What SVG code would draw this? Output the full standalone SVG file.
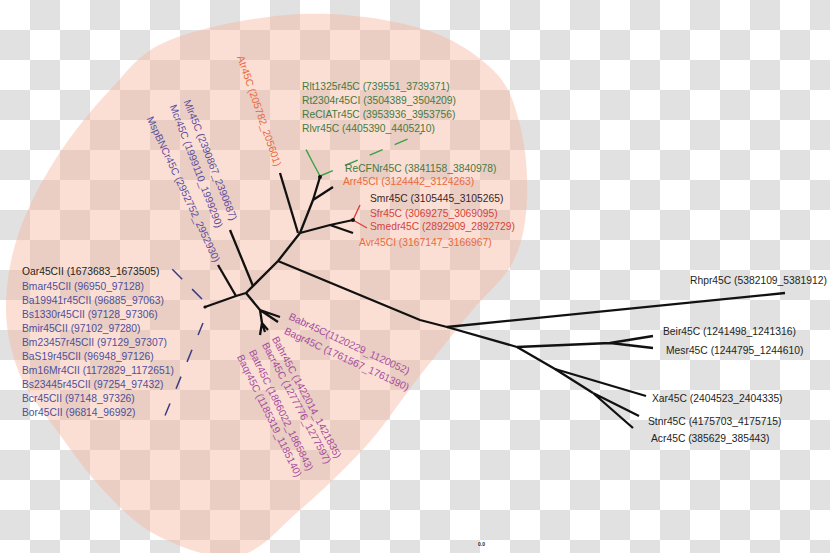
<svg xmlns="http://www.w3.org/2000/svg" width="830" height="553" viewBox="0 0 830 553">
<defs>
<pattern id="checker" width="60" height="60" patternUnits="userSpaceOnUse">
<rect width="60" height="60" fill="#ffffff"/>
<rect x="30" y="0" width="30" height="30" fill="#e1e1e1"/>
<rect x="0" y="30" width="30" height="30" fill="#e1e1e1"/>
</pattern>
<style>
text{font-family:"Liberation Sans",Arial,sans-serif;font-size:10.3px}
.blk{fill:#231f20}
.blu{fill:#4f4f9a}
.pur{fill:#5c4c9c}
.mag{fill:#a64b9d}
.org{fill:#ea6a3c}
.red{fill:#d6433b}
.grn{fill:#467a3f}
.dk{fill:#3a1f1f}
.tree{fill:none;stroke:#111;stroke-width:2.3;stroke-linejoin:round}
.gdash{fill:none;stroke:#3aa047;stroke-width:1.4}
.rdash{fill:none;stroke:#e03c3c;stroke-width:1.4}
.bdash{fill:none;stroke:#3c3c80;stroke-width:1.5}
</style>
</defs>
<rect width="830" height="553" fill="url(#checker)"/>
<path id="clade-region" fill="#f6b8a2" fill-opacity="0.45" d="M300,14 C341.7,12 387.8,18.7 420,28 C452.2,37.3 476.3,53.8 493,70 C509.7,86.2 514.3,103.3 520,125 C525.7,146.7 528.2,177.2 527,200 C525.8,222.8 522.5,243.2 513,262 C503.5,280.8 486.3,293 470,313 C453.7,333 432.2,360 415,382 C397.8,404 386.2,423.7 367,445 C347.8,466.3 321.5,491.5 300,510 C278.5,528.5 261.3,551.5 238,556 C214.7,560.5 182.2,547.7 160,537 C137.8,526.3 122.5,510.2 105,492 C87.5,473.8 69.2,447.5 55,428 C40.8,408.5 28.2,394.7 20,375 C11.8,355.3 6.3,333.3 6,310 C5.7,286.7 9.8,260 18,235 C26.2,210 39.7,184.2 55,160 C70.3,135.8 90.8,110 110,90 C129.2,70 138.3,52.7 170,40 C201.7,27.3 258.3,16 300,14 Z"/>
<g id="connectors">
<path class="tree" d="M205,307 L236,296 L246,293 L278,261 L300,233"/>
<path class="tree" d="M236,296 L218,265"/>
<path class="tree" d="M253,286 L230,230"/>
<path class="tree" d="M280,173 L298,233"/>
<path class="tree" d="M300,233 L313,200 L320,177 M313,200 L333,187"/>
<path class="tree" d="M300,233 L330,225 L353,220 M330,225 L353,233"/>
<path class="tree" d="M278,261 L420,320 L447,327 L517,347 L555,369 L593,393"/>
<path class="tree" d="M447,327 L785,293"/>
<path class="tree" d="M517,347 L610,343 L653,336 M610,343 L653,348"/>
<path class="tree" d="M555,369 L646,396"/>
<path class="tree" d="M593,393 L639,416 M593,393 L633,428"/>
<path class="tree" d="M246,293 L260,310 L280,317 M260,310 L278,322 M260,310 L262,323 L260,335 M262,323 L265,332 M262,323 L268,330"/>
<path class="gdash" d="M320,176 L313,163"/>
<path class="gdash" stroke-dasharray="15 15" d="M313,163 L300,138"/>
<path class="gdash" stroke-dasharray="14 13" d="M320,176 L422,133"/>
<path class="rdash" d="M353,220 L360,205 M353,220 L367,228"/>
<path class="bdash" stroke-dasharray="14 14" d="M202,299 L172,269"/>
<path class="bdash" stroke-dasharray="13 16" d="M203,323 L164,418"/>
<circle cx="320" cy="177" r="2" fill="#111"/>
<circle cx="353" cy="220" r="2" fill="#111"/>
<circle cx="205" cy="307" r="1.6" fill="#111"/>
</g>
<g id="node-Oar45CII"><text class="blk" x="22" y="275">Oar45CII (1673683_1673505)</text></g>
<g id="node-Bmar45CII"><text class="blu" x="22" y="290">Bmar45CII (96950_97128)</text></g>
<g id="node-Ba19941r45CII"><text class="blu" x="22" y="304">Ba19941r45CII (96885_97063)</text></g>
<g id="node-Bs1330r45CII"><text class="blu" x="22" y="318">Bs1330r45CII (97128_97306)</text></g>
<g id="node-Bmir45CII"><text class="blu" x="22" y="332">Bmir45CII (97102_97280)</text></g>
<g id="node-Bm23457r45CII"><text class="blu" x="22" y="346">Bm23457r45CII (97129_97307)</text></g>
<g id="node-BaS19r45CII"><text class="blu" x="22" y="360">BaS19r45CII (96948_97126)</text></g>
<g id="node-Bm16Mr4CII"><text class="blu" x="22" y="374">Bm16Mr4CII (1172829_1172651)</text></g>
<g id="node-Bs23445r45CII"><text class="blu" x="22" y="388">Bs23445r45CII (97254_97432)</text></g>
<g id="node-Bcr45CII"><text class="blu" x="22" y="402">Bcr45CII (97148_97326)</text></g>
<g id="node-Bor45CII"><text class="blu" x="22" y="416">Bor45CII (96814_96992)</text></g>
<g id="node-Atr45C"><text class="org" transform="translate(237,57) rotate(71)">Atr45C (205782_205601)</text></g>
<g id="node-Mlr45C"><text class="pur" transform="translate(183.6,101.4) rotate(68.5)">Mlr45C (2390867_2390687)</text></g>
<g id="node-Mcr45C"><text class="pur" transform="translate(169.5,106.3) rotate(69)">Mcr45C (1999110_1999290)</text></g>
<g id="node-MspBNCr45C"><text class="pur" transform="translate(146.6,118.6) rotate(65)">MspBNCr45C (2952752_2952930)</text></g>
<g id="node-Rlt1325r45C"><text class="grn" x="302" y="90">Rlt1325r45C (739551_3739371)</text></g>
<g id="node-Rt2304r45CI"><text class="grn" x="302" y="104">Rt2304r45CI (3504389_3504209)</text></g>
<g id="node-ReCIATr45C"><text class="grn" x="302" y="118">ReCIATr45C (3953936_3953756)</text></g>
<g id="node-Rlvr45C"><text class="grn" x="302" y="132">Rlvr45C (4405390_4405210)</text></g>
<g id="node-ReCFNr45C"><text class="grn" x="345" y="172">ReCFNr45C (3841158_3840978)</text></g>
<g id="node-Arr45CI"><text class="org" x="343" y="185">Arr45CI (3124442_3124263)</text></g>
<g id="node-Smr45C"><text class="dk" x="370" y="202">Smr45C (3105445_3105265)</text></g>
<g id="node-Sfr45C"><text class="red" x="370" y="217">Sfr45C (3069275_3069095)</text></g>
<g id="node-Smedr45C"><text class="red" x="370" y="230">Smedr45C (2892909_2892729)</text></g>
<g id="node-Avr45CI"><text class="org" x="359" y="246">Avr45CI (3167147_3166967)</text></g>
<g id="node-Babr45C"><text class="mag" transform="translate(288,319) rotate(25)">Babr45C(1120229_1120052)</text></g>
<g id="node-Bagr45C"><text class="mag" transform="translate(283.5,333.4) rotate(25)">Bagr45C (1761567_1761390)</text></g>
<g id="node-Bahr45C"><text class="mag" transform="translate(271.7,338.7) rotate(62)">Bahr45C (1422014_1421835)</text></g>
<g id="node-Bacr45C"><text class="mag" transform="translate(261.7,344.7) rotate(62)">Bacr45C (1277776_1277597)</text></g>
<g id="node-Batr45C"><text class="mag" transform="translate(248.7,351.7) rotate(64)">Batr45C (1866022_1865843)</text></g>
<g id="node-Baqr45C"><text class="mag" transform="translate(236.7,356.7) rotate(64)">Baqr45C (1185319_1185140)</text></g>
<g id="node-Rhpr45C"><text class="blk" x="690" y="284">Rhpr45C (5382109_5381912)</text></g>
<g id="node-Beir45C"><text class="blk" x="663" y="335">Beir45C (1241498_1241316)</text></g>
<g id="node-Mesr45C"><text class="blk" x="666" y="354">Mesr45C (1244795_1244610)</text></g>
<g id="node-Xar45C"><text class="blk" x="652" y="402">Xar45C (2404523_2404335)</text></g>
<g id="node-Stnr45C"><text class="blk" x="648" y="425">Stnr45C (4175703_4175715)</text></g>
<g id="node-Acr45C"><text class="blk" x="651" y="442">Acr45C (385629_385443)</text></g>
<g id="scale"><text class="blk" x="478" y="546" style="font-size:5px;font-weight:bold">0.0</text></g>
</svg>
